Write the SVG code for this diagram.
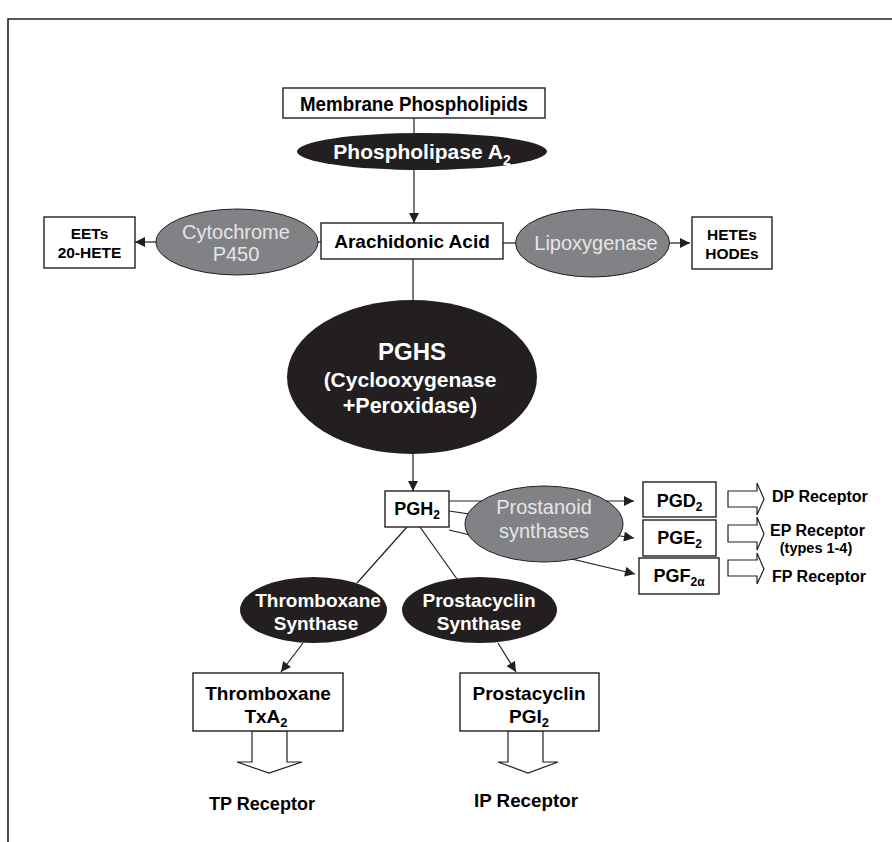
<svg xmlns="http://www.w3.org/2000/svg" width="892" height="842" viewBox="0 0 892 842">
<defs>
<style>
.frame{fill:none;stroke:#231f20;stroke-width:1.6}
.box{fill:#fff;stroke:#231f20;stroke-width:1.4}
.blk{fill:#231f20}
.gry{fill:#808285;stroke:#231f20;stroke-width:1}
.ln{fill:none;stroke:#231f20;stroke-width:1.2}
.open{fill:#fff;stroke:#231f20;stroke-width:1.2;stroke-linejoin:miter}
.b{font-family:"Liberation Sans",Arial,Helvetica,sans-serif;font-weight:bold;fill:#000}
.n{font-family:"Liberation Sans Narrow","Liberation Sans",Arial,sans-serif;font-weight:bold;fill:#000}
.w{fill:#fff}
.g{font-family:"Liberation Sans",Arial,Helvetica,sans-serif;fill:#e6e6e6;font-size:20px}
.c{text-anchor:middle}
</style>
<marker id="ah" viewBox="0 0 10 10" refX="10" refY="5" markerWidth="11" markerHeight="10" markerUnits="userSpaceOnUse" orient="auto">
<path d="M0,0 L10,5 L0,10 z" fill="#231f20"/>
</marker>
</defs>
<rect width="892" height="842" fill="#fff"/>
<path class="frame" d="M892,19 H8 V842"/>

<g id="connectors">
<path class="ln" d="M414,118 V133"/>
<path class="ln" d="M414,170 V223" marker-end="url(#ah)"/>
<path class="ln" d="M321,242 H316"/>
<path class="ln" d="M157,242 H135" marker-end="url(#ah)"/>
<path class="ln" d="M503,243 H517"/>
<path class="ln" d="M668,243 H690" marker-end="url(#ah)"/>
<path class="ln" d="M413,259 V301"/>
<path class="ln" d="M413,453 V491" marker-end="url(#ah)"/>
<path class="ln" d="M449,501 H634" marker-end="url(#ah)"/>
<path class="ln" d="M449,511 L634,538" marker-end="url(#ah)"/>
<path class="ln" d="M449,530 L635,574" marker-end="url(#ah)"/>
<path class="ln" d="M407,527 L357,583"/>
<path class="ln" d="M420,527 L457,579"/>
<path class="ln" d="M303,643 L281,672" marker-end="url(#ah)"/>
<path class="ln" d="M498,643 L516,672" marker-end="url(#ah)"/>
<path class="open" d="M728,491 H757 V483 L764,499 L757,515 V507 H728 Z"/>
<path class="open" d="M728,525 H757 V517 L764,534 L757,550 V542 H728 Z"/>
<path class="open" d="M728,560 H757 V553 L764,569 L757,584 V576 H728 Z"/>
<path class="open" d="M252,731 V762 H237 L269,773 L302,762 H287 V731 Z"/>
<path class="open" d="M508,731 V762 H498 L528,773 L558,762 H543 V731 Z"/>
</g>

<g id="membrane">
<rect class="box" x="283" y="88" width="262" height="30"/>
<text class="n c" x="414" y="110.5" font-size="21" textLength="228" lengthAdjust="spacingAndGlyphs">Membrane Phospholipids</text>
</g>

<g id="pla2">
<ellipse class="blk" cx="422" cy="151.5" rx="125" ry="18.5"/>
<text class="b w c" x="422" y="159" font-size="21">Phospholipase A<tspan font-size="14" dy="6">2</tspan></text>
</g>

<g id="arachidonic">
<rect class="box" x="321" y="223" width="182" height="36"/>
<text class="b c" x="412" y="248" font-size="19">Arachidonic Acid</text>
</g>

<g id="cyp450">
<ellipse class="gry" cx="237" cy="242" rx="81" ry="33"/>
<text class="g c" x="236" y="239">Cytochrome</text>
<text class="g c" x="236" y="261">P450</text>
</g>

<g id="eets">
<rect class="box" x="44" y="217" width="91" height="51"/>
<text class="b c" x="89.5" y="239" font-size="15.5">EETs</text>
<text class="b c" x="89.5" y="258" font-size="15.5">20-HETE</text>
</g>

<g id="lipoxygenase">
<ellipse class="gry" cx="592.5" cy="243" rx="77" ry="34"/>
<text class="g c" x="596" y="250">Lipoxygenase</text>
</g>

<g id="hetes">
<rect class="box" x="692" y="217" width="80" height="52"/>
<text class="b c" x="732" y="240" font-size="15.5">HETEs</text>
<text class="b c" x="732" y="259" font-size="15.5">HODEs</text>
</g>

<g id="pghs">
<ellipse class="blk" cx="412" cy="377" rx="125" ry="77"/>
<text class="b w c" x="412" y="360" font-size="24">PGHS</text>
<text class="b w c" x="410" y="387" font-size="21">(Cyclooxygenase</text>
<text class="b w c" x="410" y="413" font-size="21.5">+Peroxidase)</text>
</g>

<g id="pgh2">
<rect class="box" x="385" y="491" width="64" height="36"/>
<text class="b c" x="417" y="515" font-size="18">PGH<tspan font-size="12" dy="4">2</tspan></text>
</g>

<g id="prostanoid">
<ellipse class="gry" cx="544" cy="524" rx="79" ry="38"/>
<text class="g c" x="544" y="514">Prostanoid</text>
<text class="g c" x="544" y="538">synthases</text>
</g>

<g id="pgd2">
<rect class="box" x="643" y="482" width="73" height="35"/>
<text class="b c" x="679.5" y="507" font-size="18">PGD<tspan font-size="12" dy="4">2</tspan></text>
</g>
<g id="pge2">
<rect class="box" x="643" y="520" width="73" height="36"/>
<text class="b c" x="679.5" y="544" font-size="18">PGE<tspan font-size="12" dy="4">2</tspan></text>
</g>
<g id="pgf2a">
<rect class="box" x="639" y="558" width="80" height="36"/>
<text class="b c" x="679" y="582" font-size="18">PGF<tspan font-size="12" dy="4">2α</tspan></text>
</g>

<g id="dp">
<text class="b" x="772" y="502" font-size="16">DP Receptor</text>
</g>
<g id="ep">
<text class="b" x="770" y="536" font-size="16">EP Receptor</text>
<text class="b c" x="816" y="553" font-size="14.5">(types 1-4)</text>
</g>
<g id="fp">
<text class="b" x="772" y="582" font-size="16">FP Receptor</text>
</g>

<g id="txsynthase">
<ellipse class="blk" cx="313.5" cy="610" rx="73.5" ry="33"/>
<text class="b w c" x="318" y="607" font-size="19">Thromboxane</text>
<text class="b w c" x="316" y="630" font-size="19">Synthase</text>
</g>

<g id="pgisynthase">
<ellipse class="blk" cx="479.5" cy="610" rx="77.5" ry="33"/>
<text class="b w c" x="479" y="607" font-size="19">Prostacyclin</text>
<text class="b w c" x="479" y="630" font-size="19">Synthase</text>
</g>

<g id="txa2">
<rect class="box" x="193" y="673" width="150" height="58"/>
<text class="b c" x="268" y="700" font-size="19">Thromboxane</text>
<text class="b c" x="266" y="723" font-size="19">TxA<tspan font-size="13" dy="4">2</tspan></text>
</g>

<g id="pgi2">
<rect class="box" x="460" y="673" width="139" height="58"/>
<text class="b c" x="529" y="700" font-size="19">Prostacyclin</text>
<text class="b c" x="529" y="723" font-size="19">PGI<tspan font-size="13" dy="4">2</tspan></text>
</g>

<g id="tp">
<text class="n c" x="262" y="810" font-size="19" textLength="106" lengthAdjust="spacingAndGlyphs">TP Receptor</text>
</g>
<g id="ip">
<text class="n c" x="526" y="807" font-size="19" textLength="104" lengthAdjust="spacingAndGlyphs">IP Receptor</text>
</g>
</svg>
